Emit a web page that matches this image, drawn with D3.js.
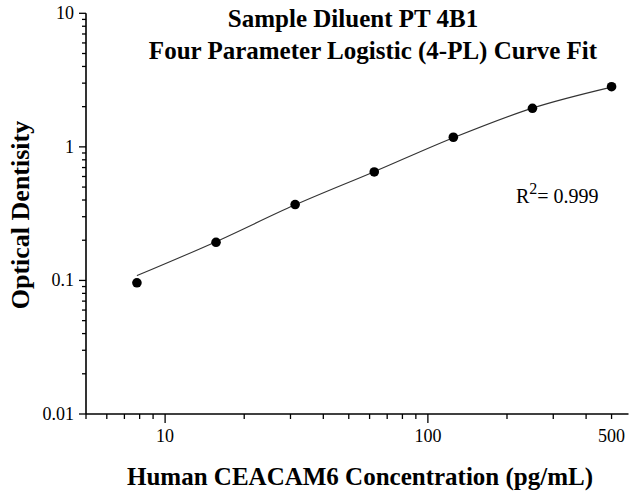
<!DOCTYPE html>
<html>
<head>
<meta charset="utf-8">
<script src="https://cdn.jsdelivr.net/npm/d3@7"></script>
<style>
  html, body { margin: 0; padding: 0; background: #fff; }
  svg { display: block; }
  text { font-family: "Liberation Serif", "Times New Roman", serif; fill: #000; }
</style>
</head>
<body>
<svg id="chart" width="634" height="492"></svg>
<script>
// ---- data ----
const concentrations = [7.8125, 15.625, 31.25, 62.5, 125, 250, 500];
const odValues = [0.096, 0.193, 0.37, 0.649, 1.18, 1.945, 2.82];
// fitted 4-PL curve at the standard concentrations
const fitConc = [7.8125, 15.625, 31.25, 62.5, 125, 250, 500];
const fitOD = [0.1086, 0.195, 0.368, 0.652, 1.17, 1.95, 2.80];
const xMajorTicks = [10, 100];
const xMinorTicks = [5, 6, 7, 8, 9, 20, 30, 40, 50, 60, 70, 80, 90, 200, 300, 400, 500];
const xTickLabels = [10, 100, 500];
const yMajorTicks = [0.01, 0.1, 1, 10];
const yTickLabels = ["0.01", "0.1", "1", "10"];
const titleLines = ["Sample Diluent PT 4B1", "Four Parameter Logistic (4-PL) Curve Fit"];
const xTitle = "Human CEACAM6 Concentration (pg/mL)";
const yTitle = "Optical Dentisity";
const r2Value = "0.999";

// ---- layout ----
const svg = d3.select("#chart");
const x = d3.scaleLog().domain([5, 580]).range([86, 628.5]);
const y = d3.scaleLog().domain([0.01, 10]).range([414, 13.3]);

const yMinor = [];
[0.01, 0.1, 1].forEach(d => { for (let k = 2; k <= 9; k++) yMinor.push(d * k); });

const axisColor = "#000";
// x axis line
svg.append("line").attr("x1", x(5)).attr("x2", x.range()[1])
  .attr("y1", y(0.01)).attr("y2", y(0.01))
  .attr("stroke", axisColor).attr("stroke-width", 1.6);
// y axis line
svg.append("line").attr("x1", x(5)).attr("x2", x(5))
  .attr("y1", y(0.01)).attr("y2", y(10))
  .attr("stroke", axisColor).attr("stroke-width", 1.6);

// x ticks
svg.append("g").selectAll("line").data(xMinorTicks).join("line")
  .attr("x1", d => x(d)).attr("x2", d => x(d))
  .attr("y1", y(0.01)).attr("y2", y(0.01) + 5)
  .attr("stroke", axisColor).attr("stroke-width", 1.3);
svg.append("g").selectAll("line").data(xMajorTicks).join("line")
  .attr("x1", d => x(d)).attr("x2", d => x(d))
  .attr("y1", y(0.01)).attr("y2", y(0.01) + 9)
  .attr("stroke", axisColor).attr("stroke-width", 1.3);
svg.append("g").selectAll("text").data(xTickLabels).join("text")
  .attr("x", d => x(d)).attr("y", 442)
  .attr("text-anchor", "middle").attr("font-size", 18)
  .text(d => d);

// y ticks
svg.append("g").selectAll("line").data(yMinor).join("line")
  .attr("x1", x(5) - 4).attr("x2", x(5))
  .attr("y1", d => y(d)).attr("y2", d => y(d))
  .attr("stroke", axisColor).attr("stroke-width", 1.3);
svg.append("g").selectAll("line").data(yMajorTicks).join("line")
  .attr("x1", x(5) - 7).attr("x2", x(5))
  .attr("y1", d => y(d)).attr("y2", d => y(d))
  .attr("stroke", axisColor).attr("stroke-width", 1.3);
svg.append("g").selectAll("text").data(yMajorTicks).join("text")
  .attr("x", 74).attr("y", d => y(d) + 6)
  .attr("text-anchor", "end").attr("font-size", 18)
  .text((d, i) => yTickLabels[i]);

// fit curve
const line = d3.line().x(d => x(d[0])).y(d => y(d[1])).curve(d3.curveMonotoneX);
svg.append("path").datum(fitConc.map((c, i) => [c, fitOD[i]]))
  .attr("d", line).attr("fill", "none")
  .attr("stroke", "#333").attr("stroke-width", 1.1);

// points
svg.append("g").selectAll("circle").data(concentrations).join("circle")
  .attr("cx", d => x(d)).attr("cy", (d, i) => y(odValues[i]))
  .attr("r", 4.8).attr("fill", "#000");

// titles
svg.append("text").attr("x", 353).attr("y", 27)
  .attr("text-anchor", "middle").attr("font-size", 25).attr("font-weight", "bold")
  .text(titleLines[0]);
svg.append("text").attr("x", 373).attr("y", 59)
  .attr("text-anchor", "middle").attr("font-size", 25).attr("font-weight", "bold")
  .text(titleLines[1]);

svg.append("text").attr("x", 360).attr("y", 485)
  .attr("text-anchor", "middle").attr("font-size", 25).attr("font-weight", "bold")
  .text(xTitle);

svg.append("text").attr("transform", "translate(29,215) rotate(-90)")
  .attr("text-anchor", "middle").attr("font-size", 26).attr("font-weight", "bold")
  .text(yTitle);

// R^2 annotation
const r2 = svg.append("text").attr("x", 516).attr("y", 203).attr("font-size", 20);
r2.append("tspan").text("R");
r2.append("tspan").attr("dy", -9).attr("font-size", 16).text("2");
r2.append("tspan").attr("dy", 9).text("= " + r2Value);
</script>
</body>
</html>
